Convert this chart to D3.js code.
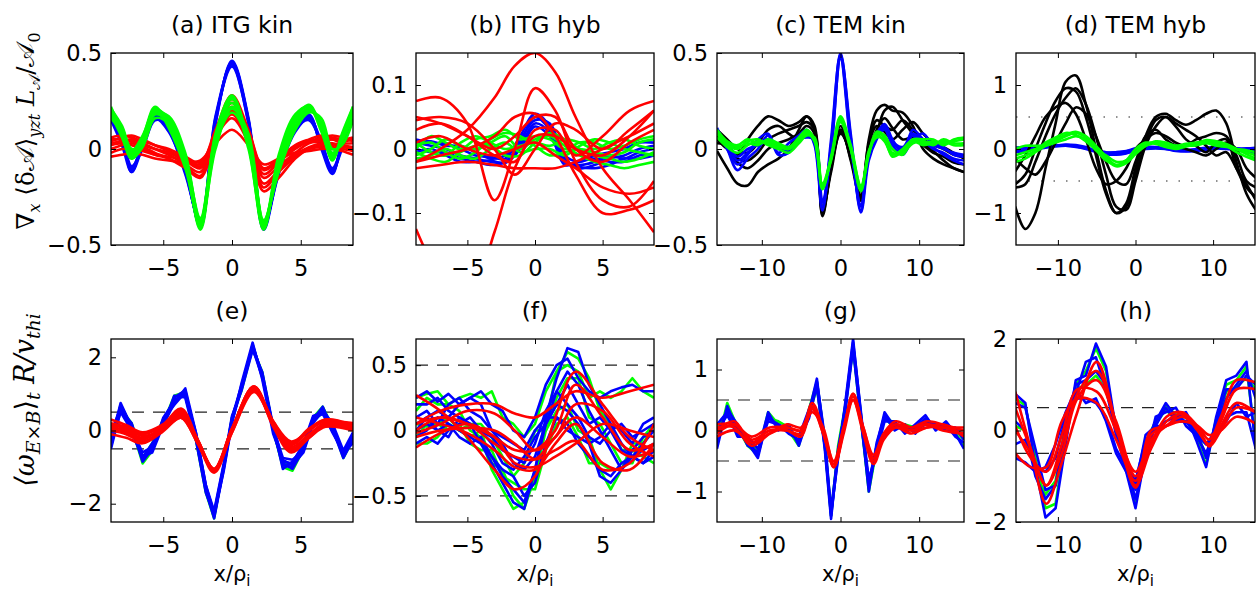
<!DOCTYPE html>
<html>
<head>
<meta charset="utf-8">
<script src="https://cdn.jsdelivr.net/npm/d3@7"></script>
<style>
  html, body { margin: 0; padding: 0; background: #fff; }
  svg { display: block; }
</style>
</head>
<body>
<svg id="fig" width="1257" height="590"></svg>
<script>
// ---------- values ----------
const titles = ['(a) ITG kin', '(b) ITG hyb', '(c) TEM kin', '(d) TEM hyb', '(e)', '(f)', '(g)', '(h)'];

const ticksX9 = [-5, 0, 5];
const ticksX15 = [-10, 0, 10];
const ticksYa = [-0.5, 0, 0.5];
const ticksYb = [-0.1, 0, 0.1];
const ticksYc = [-0.5, 0, 0.5];
const ticksYd = [-1, 0, 1];
const ticksYe = [-2, 0, 2];
const ticksYf = [-0.5, 0, 0.5];
const ticksYg = [-1, 0, 1];
const ticksYh = [-2, 0, 2];

// (a) ITG kin
const aX = [-8.8,-8,-7.3,-6.5,-5.6,-4.6,-3.4,-2.3,-1.2,0,1.2,2.3,3.4,4.6,5.6,6.5,7.3,8,8.8];
const aBlue = [
  [0.18,0.05,-0.11,0.02,0.17,0.11,-0.10,-0.40,0.15,0.45,0.15,-0.41,-0.10,0.11,0.17,0.02,-0.12,0.02,0.19],
  [0.15,0.02,-0.12,0.04,0.16,0.09,-0.12,-0.39,0.17,0.44,0.13,-0.42,-0.12,0.09,0.16,0.04,-0.11,0.00,0.16],
  [0.19,0.07,-0.09,0.00,0.15,0.12,-0.08,-0.41,0.13,0.46,0.16,-0.40,-0.08,0.12,0.18,0.00,-0.13,0.04,0.20],
  [0.17,0.04,-0.10,0.03,0.18,0.10,-0.13,-0.38,0.16,0.43,0.14,-0.39,-0.13,0.10,0.15,0.03,-0.10,0.01,0.17],
  [0.16,0.06,-0.12,0.01,0.16,0.11,-0.11,-0.40,0.14,0.45,0.15,-0.41,-0.11,0.10,0.17,0.01,-0.12,0.03,0.18]
];
const aRed = [
  [0.06,0.07,0.06,0.04,0.02,-0.01,-0.05,-0.08,0.10,0.28,0.10,-0.10,-0.05,0.02,0.05,0.07,0.06,0.05,0.06],
  [0.03,0.04,0.05,0.03,0.00,-0.03,-0.08,-0.12,0.07,0.22,0.07,-0.15,-0.09,-0.02,0.03,0.04,0.05,0.03,0.03],
  [0.00,0.02,0.03,0.01,-0.02,-0.05,-0.10,-0.15,0.05,0.18,0.04,-0.20,-0.12,-0.04,0.00,0.02,0.02,0.01,0.00],
  [-0.04,-0.03,-0.02,-0.03,-0.05,-0.06,-0.07,-0.06,0.03,0.10,0.02,-0.08,-0.05,-0.02,-0.01,0.00,0.00,-0.01,-0.03],
  [0.05,0.05,0.04,0.02,0.00,-0.02,-0.06,-0.10,0.09,0.26,0.08,-0.13,-0.07,0.00,0.04,0.05,0.05,0.04,0.05],
  [0.02,0.03,0.02,0.00,-0.03,-0.05,-0.09,-0.14,0.04,0.20,0.05,-0.18,-0.11,-0.03,0.01,0.03,0.03,0.02,0.01],
  [-0.02,0.00,0.00,-0.01,-0.03,-0.04,-0.06,-0.09,0.06,0.16,0.03,-0.22,-0.15,-0.05,0.00,0.01,0.01,0.00,-0.01],
  [0.04,0.06,0.07,0.05,0.02,0.00,-0.04,-0.07,0.08,0.24,0.09,-0.11,-0.06,0.01,0.04,0.06,0.07,0.06,0.04]
];
const aGreen = [
  [0.20,0.10,-0.03,0.05,0.21,0.15,-0.06,-0.40,0.05,0.26,0.05,-0.41,-0.07,0.15,0.21,0.12,-0.04,0.06,0.21],
  [0.18,0.06,-0.05,0.03,0.19,0.17,-0.02,-0.38,0.00,0.22,0.08,-0.39,-0.10,0.12,0.20,0.14,-0.02,0.04,0.18],
  [0.21,0.12,0.00,0.02,0.16,0.13,-0.08,-0.41,0.08,0.28,0.02,-0.42,-0.05,0.17,0.22,0.10,-0.06,0.08,0.22],
  [0.16,0.08,-0.04,0.06,0.22,0.11,-0.10,-0.39,0.03,0.19,0.04,-0.37,-0.12,0.10,0.19,0.16,0.00,0.02,0.15],
  [0.20,0.09,-0.02,0.04,0.20,0.16,-0.04,-0.36,0.06,0.24,0.00,-0.40,-0.03,0.18,0.22,0.09,-0.05,0.07,0.20],
  [0.19,0.11,-0.01,0.07,0.20,0.12,-0.07,-0.42,0.02,0.21,0.06,-0.38,-0.08,0.14,0.21,0.13,-0.03,0.05,0.19],
  [0.22,0.08,-0.05,0.01,0.18,0.14,-0.05,-0.37,0.07,0.27,0.03,-0.40,-0.06,0.16,0.23,0.11,-0.05,0.06,0.22]
];

// (b) ITG hyb
const bX = [-8.8,-7.7,-6.6,-5.5,-4.4,-3.3,-2.2,-1.1,0,1.1,2.2,3.3,4.4,5.5,6.6,7.7,8.8];
const bBlue = [
  [0.010,0.005,0.000,-0.010,-0.015,-0.020,-0.020,0.010,0.050,0.030,-0.020,-0.025,-0.020,-0.010,-0.015,-0.005,0.000],
  [0.015,0.010,0.008,0.000,-0.010,-0.012,-0.015,0.020,0.055,0.035,-0.015,-0.030,-0.025,-0.015,-0.010,0.000,0.005],
  [0.000,-0.005,-0.005,-0.015,-0.020,-0.025,-0.020,0.005,0.040,0.025,-0.025,-0.020,-0.015,-0.020,-0.020,-0.010,-0.008],
  [0.012,0.012,0.005,0.005,-0.005,-0.015,-0.010,0.015,0.045,0.040,-0.010,-0.020,-0.010,-0.005,0.000,0.010,0.010],
  [-0.005,0.000,-0.010,-0.020,-0.020,-0.018,-0.022,0.000,0.035,0.020,-0.020,-0.028,-0.030,-0.025,-0.015,-0.015,-0.010]
];
const bGreen = [
  [0.000,0.020,0.010,0.000,0.015,0.020,0.030,0.015,0.020,0.015,0.000,0.010,0.010,0.000,0.005,0.015,0.020],
  [-0.010,0.000,0.015,0.005,0.000,0.010,0.020,0.000,0.015,0.020,0.005,-0.010,-0.020,-0.025,-0.030,-0.025,-0.020],
  [0.010,-0.005,-0.010,0.010,0.020,0.010,0.000,0.005,0.010,0.005,0.015,0.010,0.000,0.010,0.015,0.005,0.000],
  [-0.015,-0.010,0.000,-0.010,-0.015,0.000,0.010,-0.005,0.000,0.000,-0.010,0.005,0.015,0.010,0.000,-0.005,-0.010],
  [0.005,0.010,-0.005,-0.015,-0.005,0.015,0.025,0.020,0.005,-0.010,-0.005,0.000,-0.005,-0.010,-0.005,0.010,0.015],
  [-0.005,-0.015,-0.020,-0.005,0.005,0.005,-0.010,-0.010,0.010,0.025,0.015,0.000,-0.010,-0.015,-0.020,-0.015,-0.005]
];
const bRX = [-8.8,-7,-5,-3,-1.5,0,1.5,3,5,7,8.8];
const bRed = [
  [-0.020,0.000,0.030,0.080,0.130,0.150,0.120,0.050,-0.030,-0.080,-0.130],
  [0.075,0.080,0.040,-0.080,0.000,0.095,0.060,-0.020,-0.080,-0.090,-0.050],
  [0.045,0.050,0.040,0.000,-0.040,0.000,0.040,0.030,0.000,0.030,0.060],
  [-0.020,-0.010,0.000,0.020,0.050,0.055,0.020,-0.040,-0.100,-0.095,-0.080],
  [-0.125,-0.200,-0.240,-0.130,-0.030,0.020,0.020,0.000,-0.010,0.020,0.060],
  [0.030,0.040,0.020,-0.010,-0.020,0.030,0.030,-0.010,0.020,0.060,0.075],
  [-0.030,-0.025,-0.020,-0.025,-0.030,-0.030,-0.030,-0.020,0.000,0.020,0.040],
  [0.010,0.020,0.000,-0.010,0.000,0.010,-0.010,-0.030,-0.060,-0.070,-0.060],
  [0.050,0.040,0.020,0.000,0.020,0.050,0.050,0.000,-0.020,0.010,0.030]
];

// (c) TEM kin
const cX = [-15.7,-14.4,-13.1,-11.8,-10.5,-9.2,-7.9,-6.6,-5.3,-4.3,-3.3,-2.3,-1.2,0,1.3,2.6,3.6,4.6,5.6,6.6,7.9,9.2,10.5,11.8,13.1,14.4,15.7];
const cBlack = [
  [-0.01,-0.10,-0.18,-0.19,-0.12,-0.08,-0.05,0.00,0.10,0.17,0.10,-0.34,-0.10,0.10,-0.05,-0.25,0.05,0.20,0.23,0.20,0.19,0.12,0.00,-0.05,-0.08,-0.10,-0.12],
  [0.05,0.00,-0.03,0.05,0.12,0.17,0.15,0.12,0.14,0.17,0.12,-0.33,-0.08,0.12,-0.06,-0.27,0.02,0.15,0.12,0.10,0.15,0.10,0.05,0.02,0.00,-0.03,-0.04],
  [0.10,0.05,0.00,-0.02,0.03,0.10,0.12,0.08,0.05,0.08,0.06,-0.35,-0.10,0.08,-0.02,-0.22,0.00,0.10,0.16,0.11,0.05,0.06,0.02,-0.02,-0.04,-0.07,-0.08],
  [0.03,0.02,-0.05,-0.06,-0.02,0.05,0.08,0.10,0.12,0.14,0.10,-0.30,-0.06,0.10,-0.04,-0.24,0.03,0.12,0.09,0.05,0.10,0.14,0.08,0.03,0.01,-0.02,-0.05],
  [0.07,0.01,-0.07,-0.10,-0.06,0.00,0.03,0.05,0.08,0.12,0.08,-0.32,-0.12,0.09,-0.03,-0.26,-0.02,0.08,0.20,0.22,0.15,0.08,0.03,-0.01,-0.06,-0.10,-0.12]
];
const cBlue = [
  [0.11,0.00,-0.11,-0.05,0.00,0.07,-0.03,-0.02,0.06,0.09,0.03,-0.30,0.02,0.50,0.06,-0.32,-0.02,0.08,0.13,0.05,-0.02,0.10,0.05,0.00,-0.02,-0.05,-0.06],
  [0.09,0.02,-0.06,-0.02,0.03,0.05,0.00,0.01,0.04,0.07,0.04,-0.28,-0.02,0.48,0.04,-0.30,-0.04,0.06,0.10,0.03,0.00,0.07,0.03,0.02,0.00,-0.02,-0.03],
  [0.10,0.00,-0.08,-0.03,0.05,0.08,-0.02,0.03,0.07,0.10,0.02,-0.32,0.05,0.49,0.08,-0.33,-0.06,0.05,0.11,0.02,-0.03,0.05,0.08,0.01,-0.03,-0.06,-0.08],
  [0.08,0.03,-0.04,0.00,0.02,0.04,0.01,-0.01,0.05,0.06,0.05,-0.27,0.00,0.47,0.02,-0.29,-0.03,0.07,0.12,0.04,0.01,0.08,0.04,0.03,0.01,-0.03,-0.04]
];
const cGreen = [
  [0.10,0.04,0.02,0.05,0.03,0.04,0.02,0.00,0.05,0.09,0.05,-0.20,-0.05,0.16,0.00,-0.21,-0.02,0.07,0.04,-0.03,0.00,0.05,0.03,0.04,0.03,0.04,0.05],
  [0.08,0.02,0.00,0.04,0.05,0.02,0.00,-0.02,0.03,0.07,0.06,-0.19,-0.06,0.15,0.02,-0.20,-0.03,0.08,0.06,-0.02,-0.02,0.03,0.04,0.02,0.05,0.03,0.03],
  [0.06,0.01,-0.02,0.02,0.04,0.03,0.01,0.00,0.04,0.08,0.04,-0.21,-0.04,0.17,0.01,-0.22,-0.01,0.06,0.05,-0.04,-0.01,0.04,0.02,0.03,0.04,0.02,0.02],
  [0.09,0.03,0.01,0.03,0.02,0.05,0.03,0.01,0.06,0.10,0.05,-0.18,-0.05,0.14,0.00,-0.19,-0.02,0.09,0.07,0.00,-0.03,0.05,0.05,0.05,0.02,0.05,0.06]
];

// (d) TEM hyb
const dX = [-15.5,-14.2,-12.9,-11.6,-10.3,-9,-7.7,-6.4,-5.1,-3.8,-2.5,-1.2,0,1.3,2.6,3.9,5.2,6.5,7.8,9.1,10.4,11.7,13,14.3,15.5];
const dBlue = [
  [0.00,0.02,0.03,0.04,0.05,0.06,0.05,0.02,-0.02,-0.05,-0.06,-0.04,0.00,0.02,0.02,0.00,-0.02,-0.03,-0.02,0.00,0.02,0.01,0.00,0.00,0.00],
  [-0.03,-0.01,0.01,0.03,0.05,0.07,0.06,0.03,-0.03,-0.07,-0.08,-0.06,-0.02,0.01,0.02,0.01,-0.01,-0.02,-0.01,0.01,0.03,0.02,0.00,-0.02,-0.04],
  [0.02,0.03,0.04,0.05,0.06,0.05,0.03,0.00,-0.04,-0.06,-0.05,-0.03,0.01,0.03,0.03,0.01,-0.01,-0.02,0.00,0.02,0.03,0.02,0.01,0.01,0.02],
  [-0.05,-0.03,0.00,0.02,0.04,0.05,0.04,0.01,-0.03,-0.08,-0.09,-0.07,-0.03,0.00,0.01,0.00,-0.03,-0.04,-0.03,-0.01,0.01,0.00,-0.02,-0.04,-0.06]
];
const dBlack = [
  [-0.90,-1.25,-1.00,-0.30,0.40,1.05,1.15,0.70,0.00,-0.65,-1.00,-0.85,-0.30,0.20,0.50,0.55,0.45,0.38,0.45,0.55,0.60,0.40,-0.20,-0.70,-0.95],
  [-0.55,-0.40,0.00,0.40,0.75,0.95,0.90,0.50,-0.10,-0.70,-1.00,-0.90,-0.40,0.10,0.45,0.50,0.35,0.15,0.05,-0.05,0.10,0.15,-0.30,-0.60,-0.75],
  [-0.35,-0.10,0.20,0.50,0.65,0.72,0.55,0.15,-0.30,-0.55,-0.50,-0.30,0.00,0.15,0.25,0.20,0.10,0.05,0.15,0.20,0.25,0.20,-0.10,-0.50,-0.60],
  [-0.60,-0.55,-0.20,0.20,0.55,0.80,0.95,0.70,0.20,-0.40,-0.90,-0.95,-0.50,0.05,0.35,0.50,0.40,0.30,0.20,0.05,-0.10,-0.05,-0.30,-0.55,-0.80],
  [-0.15,-0.30,-0.40,-0.20,0.10,0.40,0.65,0.55,0.20,-0.20,-0.50,-0.55,-0.20,0.20,0.30,0.15,0.05,0.00,-0.05,-0.10,0.00,0.10,0.00,-0.30,-0.45]
];
const dGreen = [
  [-0.10,-0.05,0.00,0.07,0.15,0.22,0.27,0.20,0.05,-0.12,-0.25,-0.20,-0.05,0.05,0.10,0.08,0.05,0.08,0.10,0.12,0.08,0.05,0.00,-0.05,-0.10],
  [-0.20,-0.15,-0.05,0.05,0.12,0.20,0.25,0.18,0.02,-0.15,-0.27,-0.22,-0.08,0.05,0.12,0.10,0.05,0.05,0.06,0.10,0.10,0.05,-0.05,-0.12,-0.18],
  [0.00,0.05,0.05,0.05,0.10,0.15,0.20,0.15,0.00,-0.10,-0.20,-0.18,-0.05,0.08,0.10,0.05,0.02,0.05,0.06,0.09,0.05,0.03,0.00,-0.02,-0.05],
  [-0.15,-0.10,-0.03,0.10,0.18,0.25,0.22,0.12,-0.02,-0.18,-0.25,-0.18,0.00,0.10,0.08,0.03,0.00,0.04,0.08,0.14,0.12,0.08,0.00,-0.08,-0.15]
];

// (e) ITG kin, shearing rate
const eX = [-8.8,-8.1,-7.3,-6.5,-5.8,-5,-4.2,-3.4,-2.6,-1.9,-1.3,-0.6,0,0.7,1.5,2.2,3,3.7,4.4,5.2,5.9,6.6,7.3,8.1,8.8];
const eGreen = [
  [-0.45,0.70,0.10,-0.90,-0.55,0.20,0.95,1.05,-0.20,-1.60,-2.30,-1.00,0.30,1.20,2.30,1.50,0.00,-1.00,-1.10,-0.50,0.35,0.65,0.10,-0.75,-0.25],
  [-0.15,0.60,0.20,-0.75,-0.35,0.30,0.80,1.00,-0.30,-1.70,-2.40,-0.95,0.35,1.10,2.25,1.60,0.05,-0.85,-0.95,-0.40,0.25,0.50,0.00,-0.60,-0.10]
];
const eBlue = [
  [-0.30,0.75,0.10,-0.85,-0.50,0.20,0.90,1.10,-0.20,-1.60,-2.35,-1.00,0.30,1.20,2.35,1.50,0.00,-0.90,-1.05,-0.50,0.30,0.60,0.10,-0.70,-0.20],
  [-0.50,0.55,0.20,-0.70,-0.55,0.35,0.80,1.00,-0.10,-1.50,-2.20,-0.90,0.40,1.10,2.20,1.60,0.10,-1.05,-0.85,-0.40,0.35,0.45,0.00,-0.60,-0.35],
  [-0.10,0.65,-0.05,-0.75,-0.35,0.10,0.95,0.90,-0.30,-1.70,-2.30,-1.10,0.20,1.30,2.40,1.40,-0.10,-0.80,-0.95,-0.60,0.20,0.55,0.20,-0.55,-0.05],
  [-0.35,0.50,0.00,-0.60,-0.45,0.30,0.70,1.05,-0.15,-1.55,-2.25,-0.95,0.35,1.25,2.30,1.50,0.05,-0.75,-0.80,-0.55,0.25,0.50,0.15,-0.65,-0.15],
  [-0.20,0.60,0.15,-0.80,-0.40,0.25,0.85,0.95,-0.25,-1.65,-2.40,-1.05,0.25,1.15,2.30,1.55,0.00,-0.95,-1.00,-0.45,0.30,0.65,0.05,-0.75,-0.25],
  [-0.40,0.70,0.05,-0.70,-0.60,0.15,0.75,1.15,-0.10,-1.50,-2.30,-1.00,0.30,1.20,2.25,1.45,0.10,-0.85,-0.90,-0.35,0.40,0.50,-0.05,-0.60,-0.30]
];
const eRX = [-8.8,-7.7,-6.5,-5.1,-3.7,-2.5,-1.3,0,1.6,3,4.3,5.6,6.8,8.8];
const eRed = [
  [0.10,0.00,-0.20,0.05,0.45,-0.30,-1.10,0.00,1.15,0.20,-0.45,-0.10,0.20,0.10],
  [0.30,0.15,-0.05,0.15,0.55,-0.25,-1.05,0.05,1.20,0.25,-0.30,0.00,0.30,0.15],
  [-0.10,-0.20,-0.35,-0.05,0.35,-0.35,-1.15,-0.05,1.10,0.15,-0.55,-0.20,0.10,0.00],
  [0.20,0.10,-0.10,0.10,0.50,-0.25,-1.10,0.00,1.15,0.25,-0.40,0.00,0.25,0.05],
  [0.00,-0.10,-0.30,0.00,0.40,-0.30,-1.05,0.05,1.20,0.10,-0.60,-0.20,0.15,0.05],
  [0.15,0.05,-0.15,0.00,0.35,-0.35,-1.10,-0.05,1.05,0.20,-0.50,-0.15,0.20,0.20],
  [0.05,-0.05,-0.25,0.10,0.60,-0.25,-1.05,0.05,1.20,0.20,-0.35,0.05,0.30,0.10]
];

// (f) ITG hyb, shearing rate
const fX = [-8.8,-8.0,-7.2,-6.4,-5.6,-4.8,-4.0,-3.2,-2.4,-1.6,-0.8,0,0.8,1.6,2.4,3.2,4.0,4.8,5.6,6.4,7.2,8.0,8.8];
const fGreen = [
  [0.05,0.03,0.05,0.10,0.00,-0.05,0.00,-0.25,-0.30,-0.50,-0.60,-0.35,0.05,0.45,0.60,0.55,0.40,0.15,0.05,-0.15,-0.15,-0.20,-0.25],
  [0.25,0.28,0.30,0.20,0.25,0.28,0.25,0.30,0.10,0.05,-0.05,0.05,0.30,0.45,0.50,0.45,0.25,0.30,0.25,0.30,0.40,0.30,0.25],
  [-0.05,0.05,0.05,0.00,0.05,-0.10,-0.15,-0.15,-0.35,-0.40,-0.45,-0.45,-0.15,0.05,0.10,-0.05,-0.25,-0.25,-0.30,-0.30,-0.15,-0.20,-0.15],
  [0.15,0.25,0.20,0.20,0.15,0.00,-0.05,-0.30,-0.45,-0.60,-0.55,-0.35,0.00,0.25,0.40,0.40,0.10,0.05,-0.10,-0.25,-0.25,-0.05,0.05],
  [-0.10,-0.10,-0.05,0.05,0.00,0.05,0.05,-0.05,-0.20,-0.35,-0.25,0.00,0.00,0.15,0.20,0.00,-0.05,-0.30,-0.45,-0.30,-0.10,-0.10,0.05]
];
const fBlue = [
  [0.00,0.05,0.00,0.05,-0.05,-0.10,-0.05,-0.20,-0.35,-0.45,-0.55,-0.30,0.10,0.40,0.63,0.60,0.35,0.20,0.05,-0.10,-0.20,-0.25,-0.20],
  [0.25,0.30,0.22,0.28,0.20,0.25,0.30,0.20,0.15,0.00,-0.05,0.10,0.35,0.50,0.55,0.40,0.30,0.25,0.30,0.33,0.35,0.30,0.30],
  [0.10,0.15,0.05,0.20,0.25,0.15,0.10,0.00,-0.10,-0.25,-0.30,-0.20,0.05,0.20,0.35,0.20,0.05,0.10,0.00,-0.15,-0.20,-0.25,-0.15],
  [-0.05,0.00,0.10,0.05,0.00,-0.05,-0.10,-0.20,-0.30,-0.35,-0.50,-0.40,-0.10,0.10,0.05,-0.10,-0.20,-0.30,-0.35,-0.25,-0.20,-0.15,-0.10],
  [0.05,0.10,0.00,-0.05,0.10,0.05,0.00,-0.05,-0.15,-0.20,-0.25,-0.10,0.15,0.30,0.20,0.10,-0.05,-0.10,0.00,0.05,-0.05,0.00,0.05],
  [-0.10,-0.05,-0.10,0.00,0.05,0.10,0.00,-0.10,-0.25,-0.30,-0.20,-0.05,0.05,0.20,0.15,0.05,-0.10,-0.35,-0.40,-0.30,-0.15,-0.05,0.00],
  [0.20,0.20,0.25,0.15,0.10,0.05,-0.10,-0.25,-0.40,-0.55,-0.60,-0.30,0.05,0.30,0.45,0.35,0.15,0.00,-0.15,-0.30,-0.20,-0.10,0.00],
  [0.00,0.10,0.15,0.10,0.20,0.25,0.20,0.00,-0.05,-0.10,-0.15,0.00,0.10,0.10,0.00,-0.05,-0.10,-0.05,0.05,0.00,-0.10,0.05,0.10]
];
const fRX = [-8.8,-7,-5,-3,-1.5,0,1.5,3,5,7,8.8];
const fRed = [
  [0.27,0.15,-0.05,-0.30,-0.45,-0.35,0.10,0.45,0.20,-0.05,-0.15],
  [0.05,0.15,0.20,0.20,0.13,0.10,0.20,0.30,0.25,0.30,0.35],
  [-0.02,0.05,0.15,0.13,0.00,-0.15,-0.05,0.20,0.15,-0.10,-0.20],
  [0.00,0.10,0.05,-0.10,-0.20,-0.22,-0.05,0.10,-0.05,-0.20,-0.15],
  [-0.13,-0.02,0.05,-0.05,-0.25,-0.28,-0.20,-0.10,0.05,0.00,-0.05],
  [0.10,0.05,-0.02,-0.15,-0.28,-0.30,-0.10,0.05,-0.25,-0.30,-0.10],
  [0.05,0.10,0.05,-0.05,-0.15,-0.15,0.00,0.35,0.10,-0.15,-0.10],
  [-0.05,0.00,0.02,0.00,-0.10,-0.22,-0.15,-0.08,-0.30,-0.25,0.05]
];

// (g) TEM kin, shearing rate
const gX = [-15.7,-14.4,-13.1,-11.8,-10.5,-9.2,-7.9,-6.6,-5.3,-4.0,-3.0,-2.0,-1.2,-0.3,0.6,1.6,2.6,3.6,4.6,5.6,6.9,8.2,9.5,10.8,12.1,13.4,14.6,15.7];
const gGreen = [
  [-0.25,0.45,0.05,-0.25,-0.40,0.30,0.10,0.00,-0.25,0.35,0.80,-0.15,-1.35,-0.35,0.35,1.40,0.25,-1.00,-0.30,0.25,0.10,0.05,0.00,0.15,0.10,0.05,-0.05,-0.25],
  [0.05,0.30,0.00,-0.15,-0.35,0.20,0.15,0.05,-0.20,0.25,0.70,-0.25,-1.40,-0.25,0.40,1.35,0.15,-0.95,-0.25,0.20,0.05,0.10,0.05,0.10,0.05,0.10,0.00,-0.15]
];
const gBlue = [
  [-0.30,0.40,0.00,-0.20,-0.45,0.25,0.05,0.05,-0.20,0.30,0.85,-0.20,-1.40,-0.40,0.40,1.45,0.30,-0.90,-0.30,0.20,0.10,0.00,0.05,0.20,0.05,0.10,-0.10,-0.20],
  [0.10,0.30,-0.10,-0.10,-0.30,0.15,0.10,-0.05,-0.15,0.20,0.75,-0.30,-1.45,-0.30,0.35,1.40,0.20,-1.00,-0.20,0.25,0.00,0.10,-0.05,0.15,0.10,0.00,0.00,-0.10],
  [-0.20,0.35,0.10,-0.25,-0.35,0.30,0.00,0.10,-0.25,0.25,0.80,-0.10,-1.35,-0.45,0.45,1.50,0.25,-0.80,-0.35,0.15,0.15,-0.05,0.10,0.25,0.00,0.15,-0.05,-0.30],
  [0.00,0.25,-0.05,-0.15,-0.40,0.20,0.10,0.00,-0.10,0.35,0.70,-0.25,-1.30,-0.35,0.30,1.35,0.15,-0.85,-0.25,0.30,0.05,0.05,0.00,0.10,0.10,0.05,0.05,-0.15]
];
const gRX = [-15.7,-13.5,-11.3,-9,-6.8,-5,-3.6,-2.2,-0.85,0.4,1.6,2.9,4.2,5.5,7,9,11,13,15.7];
const gRed = [
  [0.00,0.15,-0.20,-0.05,0.05,0.00,0.45,0.00,-0.60,0.00,0.60,0.00,-0.50,-0.10,0.10,0.00,0.10,0.05,-0.05],
  [-0.05,0.10,-0.15,0.00,0.00,-0.05,0.40,-0.05,-0.55,0.05,0.55,0.05,-0.45,-0.05,0.10,0.05,0.15,0.10,0.00],
  [0.05,0.05,-0.25,-0.05,0.10,0.05,0.35,-0.05,-0.60,-0.05,0.50,-0.05,-0.55,-0.15,0.05,0.00,0.05,0.10,-0.10],
  [0.10,0.10,-0.10,0.05,0.05,0.00,0.30,0.05,-0.55,0.00,0.60,0.05,-0.40,-0.05,0.15,0.05,0.10,0.00,-0.05],
  [-0.10,0.00,-0.20,0.00,0.00,-0.10,0.40,0.00,-0.50,0.05,0.50,0.00,-0.50,-0.10,0.05,-0.05,0.05,0.05,0.05]
];

// (h) TEM hyb, shearing rate
const hX = [-15.5,-14.2,-12.9,-11.6,-10.3,-9,-7.7,-6.4,-5.1,-3.8,-2.5,-1.2,0,1.3,2.6,3.9,5.2,6.5,7.8,9.1,10.4,11.7,13,14.3,15.5];
const hGreen = [
  [0.70,0.55,-0.60,-1.70,-1.60,-0.20,1.00,1.30,1.80,1.30,-0.05,-0.85,-1.60,-0.45,0.15,0.45,0.25,0.30,-0.15,-0.75,0.25,1.00,1.10,1.40,-0.30],
  [0.10,0.00,-0.90,-1.40,-1.10,0.15,0.90,1.00,1.20,0.90,0.05,-0.65,-1.25,-0.25,0.20,0.55,0.35,0.35,0.00,-0.55,0.15,0.85,0.95,1.15,0.90]
];
const hBlue = [
  [0.80,0.60,-0.80,-1.90,-1.70,-0.30,1.10,1.20,1.90,1.40,0.00,-0.90,-1.70,-0.50,0.10,0.50,0.20,0.35,-0.20,-0.80,0.30,1.10,1.20,1.50,-0.40],
  [0.60,0.50,-0.40,-1.30,-1.20,0.00,0.80,1.50,1.60,0.90,-0.10,-0.70,-1.50,-0.60,0.30,0.40,0.50,0.10,-0.10,-0.50,0.10,0.70,1.00,1.30,0.70],
  [-0.30,-0.20,-0.80,-0.90,-0.60,0.30,0.70,0.70,0.60,0.30,-0.40,-0.80,-1.10,-0.20,0.00,0.20,0.30,0.20,-0.10,-0.30,0.00,0.20,0.60,0.30,0.40],
  [0.20,0.00,-1.00,-1.50,-1.20,0.10,1.00,1.10,1.30,1.00,0.10,-0.60,-1.30,-0.30,0.20,0.60,0.30,0.40,0.00,-0.60,0.20,0.90,0.90,1.20,1.00],
  [-0.60,-0.70,-0.90,-0.80,-0.30,0.40,0.90,0.60,0.70,0.20,-0.50,-0.90,-1.20,-0.10,0.10,0.10,0.20,0.20,0.00,-0.30,-0.10,0.30,0.40,0.40,-0.40]
];
const hRX = [-15.5,-13.5,-11.5,-9.5,-7.5,-5,-2.5,0,2,4,6,8,9.5,11,13,15.5];
const hRed = [
  [0.85,-0.40,-1.60,-0.70,0.40,1.50,0.15,-1.20,-0.40,0.20,0.35,0.00,-0.30,0.20,0.90,0.90],
  [0.50,-0.40,-1.20,-0.50,0.70,1.10,0.20,-1.00,-0.30,0.30,0.40,0.10,-0.20,0.30,1.10,1.05],
  [0.10,-0.60,-0.90,-0.10,0.90,0.85,0.00,-0.90,-0.20,0.10,0.30,0.05,-0.35,0.00,0.50,0.40],
  [-0.50,-0.80,-0.80,0.20,0.70,0.60,-0.20,-1.10,-0.10,0.10,0.20,0.10,-0.10,0.00,0.30,0.15],
  [0.00,-0.50,-1.20,-0.30,0.80,1.30,0.10,-1.25,0.00,0.10,0.40,0.00,-0.30,0.10,0.60,0.40]
];

// ---------- layout ----------
const colsX = [[111, 353], [416, 654], [717, 964], [1016, 1255]];
const rowsY = [[53, 245], [339, 522]];
const C = { blue: '#0000ff', red: '#ff0000', green: '#00ff00', black: '#000000' };
const FONT = 'DejaVu Sans';

const panels = [
  { xd: [-8.8, 8.8], yd: [-0.5, 0.5], xt: ticksX9, yt: ticksYa, refs: [],
    groups: [{ x: aX, lines: aBlue, c: C.blue }, { x: aX, lines: aRed, c: C.red }, { x: aX, lines: aGreen, c: C.green }] },
  { xd: [-8.8, 8.8], yd: [-0.15, 0.15], xt: ticksX9, yt: ticksYb, refs: [],
    groups: [{ x: bX, lines: bBlue, c: C.blue }, { x: bX, lines: bGreen, c: C.green }, { x: bRX, lines: bRed, c: C.red }] },
  { xd: [-15.7, 15.7], yd: [-0.5, 0.5], xt: ticksX15, yt: ticksYc, refs: [],
    groups: [{ x: cX, lines: cBlack, c: C.black }, { x: cX, lines: cBlue, c: C.blue }, { x: cX, lines: cGreen, c: C.green }] },
  { xd: [-15.4, 15.4], yd: [-1.5, 1.5], xt: ticksX15, yt: ticksYd, refs: [-0.5, 0.5], dash: '1.5,11',
    groups: [{ x: dX, lines: dBlue, c: C.blue }, { x: dX, lines: dBlack, c: C.black }, { x: dX, lines: dGreen, c: C.green }] },
  { xd: [-8.8, 8.8], yd: [-2.5, 2.5], xt: ticksX9, yt: ticksYe, refs: [-0.5, 0.5], dash: '12,9',
    groups: [{ x: eX, lines: eGreen, c: C.green, jag: true }, { x: eX, lines: eBlue, c: C.blue, jag: true }, { x: eRX, lines: eRed, c: C.red }] },
  { xd: [-8.8, 8.8], yd: [-0.7, 0.7], xt: ticksX9, yt: ticksYf, refs: [-0.5, 0.5], dash: '12,9',
    groups: [{ x: fX, lines: fGreen, c: C.green, jag: true }, { x: fX, lines: fBlue, c: C.blue, jag: true }, { x: fRX, lines: fRed, c: C.red }] },
  { xd: [-15.7, 15.7], yd: [-1.5, 1.5], xt: ticksX15, yt: ticksYg, refs: [-0.5, 0.5], dash: '12,9',
    groups: [{ x: gX, lines: gGreen, c: C.green, jag: true }, { x: gX, lines: gBlue, c: C.blue, jag: true }, { x: gRX, lines: gRed, c: C.red }] },
  { xd: [-15.4, 15.4], yd: [-2, 2], xt: ticksX15, yt: ticksYh, refs: [-0.5, 0.5], dash: '12,9',
    groups: [{ x: hX, lines: hGreen, c: C.green, jag: true }, { x: hX, lines: hBlue, c: C.blue, jag: true }, { x: hRX, lines: hRed, c: C.red }] }
];

const svg = d3.select('#fig');
const defs = svg.append('defs');
const fmt = d3.format('');

panels.forEach((p, i) => {
  const [x0, x1] = colsX[i % 4];
  const [y0, y1] = rowsY[Math.floor(i / 4)];
  const x = d3.scaleLinear().domain(p.xd).range([x0, x1]);
  const y = d3.scaleLinear().domain(p.yd).range([y1, y0]);

  defs.append('clipPath').attr('id', 'clip' + i)
    .append('rect').attr('x', x0).attr('y', y0).attr('width', x1 - x0).attr('height', y1 - y0);

  const g = svg.append('g');
  const plot = g.append('g').attr('clip-path', `url(#clip${i})`);

  // reference levels
  plot.selectAll('line.ref').data(p.refs).join('line')
    .attr('class', 'ref')
    .attr('x1', x0).attr('x2', x1)
    .attr('y1', d => y(d)).attr('y2', d => y(d))
    .attr('stroke', '#222').attr('stroke-width', 1.2)
    .attr('stroke-dasharray', p.dash);

  p.groups.forEach(grp => {
    const line = d3.line()
      .defined((d, j) => grp.x[j] !== undefined)
      .x((d, j) => x(grp.x[j]))
      .y(d => y(d))
      .curve(grp.jag ? d3.curveLinear : d3.curveCatmullRom.alpha(0.5));
    plot.append('g').selectAll('path').data(grp.lines).join('path')
      .attr('d', line)
      .attr('fill', 'none')
      .attr('stroke', grp.c)
      .attr('stroke-width', 2.6)
      .attr('stroke-linejoin', 'round');
  });

  // axes with inward ticks on all four sides
  const styleAxis = sel => {
    sel.select('.domain').remove();
    sel.selectAll('line').attr('stroke', '#000');
    sel.selectAll('text').attr('font-family', FONT).attr('font-size', 22.5).attr('fill', '#000');
  };
  g.append('g').attr('transform', `translate(0,${y1})`)
    .call(d3.axisBottom(x).tickValues(p.xt).tickSizeInner(-5).tickSizeOuter(0).tickPadding(15).tickFormat(fmt))
    .call(styleAxis);
  g.append('g').attr('transform', `translate(0,${y0})`)
    .call(d3.axisTop(x).tickValues(p.xt).tickSizeInner(-5).tickSizeOuter(0).tickFormat(''))
    .call(styleAxis);
  g.append('g').attr('transform', `translate(${x0},0)`)
    .call(d3.axisLeft(y).tickValues(p.yt).tickSizeInner(-5).tickSizeOuter(0).tickPadding(9).tickFormat(fmt))
    .call(styleAxis);
  g.append('g').attr('transform', `translate(${x1},0)`)
    .call(d3.axisRight(y).tickValues(p.yt).tickSizeInner(-5).tickSizeOuter(0).tickFormat(''))
    .call(styleAxis);

  g.append('rect')
    .attr('x', x0).attr('y', y0).attr('width', x1 - x0).attr('height', y1 - y0)
    .attr('fill', 'none').attr('stroke', '#000').attr('stroke-width', 1.3);

  // title
  g.append('text')
    .attr('x', (x0 + x1) / 2).attr('y', y0 - 20)
    .attr('text-anchor', 'middle')
    .attr('font-family', FONT).attr('font-size', 23.5)
    .text(titles[i]);

  // x label on the bottom row
  if (i >= 4) {
    const t = g.append('text')
      .attr('x', (x0 + x1) / 2).attr('y', 581)
      .attr('text-anchor', 'middle')
      .attr('font-family', FONT).attr('font-size', 21);
    t.append('tspan').text('x/ρ');
    t.append('tspan').attr('dy', 5).attr('font-size', 15).text('i');
  }
});

// y labels (math style)
function mathLabel(cx, cy, size, subSize, parts) {
  const t = svg.append('text')
    .attr('transform', `translate(${cx},${cy}) rotate(-90)`)
    .attr('text-anchor', 'middle')
    .attr('font-family', 'DejaVu Serif')
    .attr('font-size', size);
  let shifted = false;
  parts.forEach(([s, sub, it]) => {
    const ts = t.append('tspan').text(s);
    if (it) ts.attr('font-style', 'italic');
    if (sub && !shifted) { ts.attr('dy', 6).attr('font-size', subSize); shifted = true; }
    else if (sub) { ts.attr('font-size', subSize); }
    else if (shifted) { ts.attr('dy', -6); shifted = false; }
  });
}
mathLabel(34, 131, 24.5, 16, [
  ['∇', false, false], ['x', true, true], [' ⟨δ𝒜⟩', false, false], ['yzt', true, true],
  [' L', false, true], ['𝒜', true, false], ['/𝒜', false, false], ['0', true, false]
]);
mathLabel(34, 400, 27, 19, [
  ['⟨ω', false, true], ['E×B', true, true], ['⟩', false, false], ['t', true, true],
  [' R/v', false, true], ['thi', true, true]
]);
</script>
</body>
</html>
